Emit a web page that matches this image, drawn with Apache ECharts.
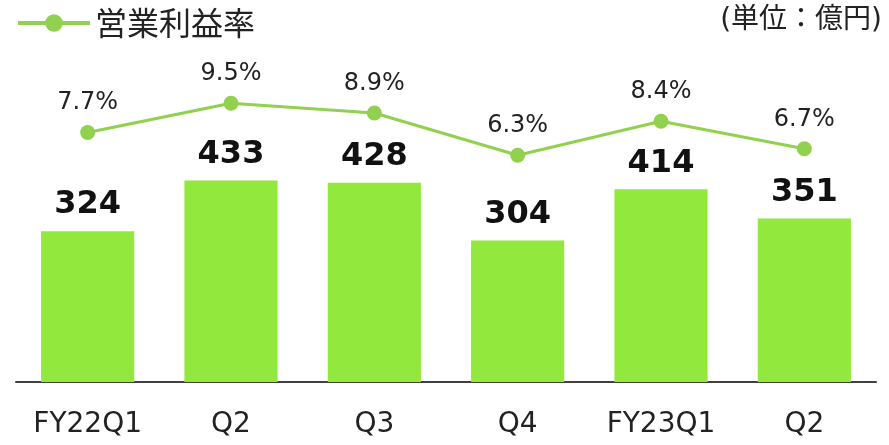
<!DOCTYPE html>
<html>
<head>
<meta charset="utf-8">
<script src="https://cdn.jsdelivr.net/npm/echarts@6/dist/echarts.min.js"></script>
<style>
html,body{margin:0;padding:0;background:#fff;}
#chart{width:889px;height:445px;}
</style>
</head>
<body>
<div id="chart"></div>
<script>
const categories = ['FY22Q1', 'Q2', 'Q3', 'Q4', 'FY23Q1', 'Q2'];
const operatingProfit = [324, 433, 428, 304, 414, 351];
const operatingMargin = [7.7, 9.5, 8.9, 6.3, 8.4, 6.7];
const legendName = '営業利益率';
const unitText = '(単位：億円)';

const FONT = '"DejaVu Sans", "Noto Sans CJK JP", sans-serif';
const chart = echarts.init(document.getElementById('chart'), null, {renderer: 'canvas'});
chart.setOption({
  animation: false,
  backgroundColor: '#ffffff',
  title: {
    text: unitText,
    right: 2,
    top: 0,
    textStyle: {fontFamily: FONT, fontSize: 28, fontWeight: 'normal', color: '#222', lineHeight: 32}
  },
  legend: {
    left: 11,
    top: 1,
    data: [legendName],
    itemWidth: 72,
    itemHeight: 22,
    lineStyle: {width: 4},
    textStyle: {fontFamily: '"Noto Sans CJK JP", sans-serif', fontSize: 32, color: '#222', lineHeight: 34}
  },
  grid: {left: 16, right: 13, top: 57, bottom: 63, containLabel: false},
  xAxis: {
    type: 'category',
    data: categories,
    axisTick: {show: false},
    axisLine: {lineStyle: {color: '#404040', width: 2}},
    axisLabel: {fontFamily: FONT, fontSize: 28, color: '#222', margin: 29, interval: 0}
  },
  yAxis: [
    {type: 'value', min: 0, max: 698, show: false, splitLine: {show: false}},
    {type: 'value', min: -7.65, max: 12.35, show: false, splitLine: {show: false}}
  ],
  series: [
    {
      type: 'bar',
      name: '営業利益',
      data: operatingProfit,
      barWidth: '65%',
      itemStyle: {color: '#92E83C'},
      label: {
        show: true, position: 'top', distance: 10,
        fontFamily: FONT, fontSize: 32, fontWeight: 'bold', color: '#111'
      }
    },
    {
      type: 'line',
      name: legendName,
      yAxisIndex: 1,
      data: operatingMargin,
      symbol: 'circle',
      symbolSize: 15,
      lineStyle: {color: '#92D050', width: 3},
      itemStyle: {color: '#92D050'},
      label: {
        show: true, position: 'top', distance: 10,
        fontFamily: FONT, fontSize: 24, color: '#222',
        formatter: p => p.value.toFixed(1) + '%'
      }
    }
  ]
});
</script>
</body>
</html>
